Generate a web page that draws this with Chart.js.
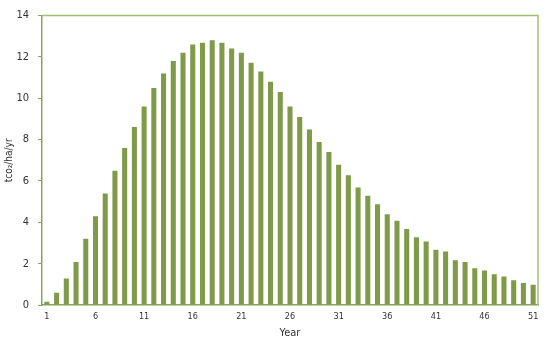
<!DOCTYPE html>
<html>
<head>
<meta charset="utf-8">
<script src="https://cdn.jsdelivr.net/npm/chart.js@4"></script>
<style>
html,body{margin:0;padding:0;background:#fff;}
#wrap{width:558px;height:354px;position:relative;}
</style>
</head>
<body>
<div id="wrap"><canvas id="c" width="558" height="354"></canvas></div>
<script>
const years = [];
for (let y = 1; y <= 51; y++) years.push(String(y));
const sequestration = [
  0.16, 0.59, 1.28, 2.08, 3.2, 4.29, 5.39, 6.5, 7.59, 8.61,
  9.6, 10.5, 11.2, 11.8, 12.2, 12.6, 12.69, 12.81, 12.69, 12.41,
  12.2, 11.72, 11.3, 10.8, 10.31, 9.6, 9.09, 8.49, 7.89, 7.4,
  6.79, 6.28, 5.68, 5.28, 4.87, 4.39, 4.08, 3.68, 3.28, 3.07,
  2.67, 2.59, 2.16, 2.08, 1.78, 1.67, 1.49, 1.38, 1.2, 1.07,
  0.98
];
const yTicks = [0, 2, 4, 6, 8, 10, 12, 14];

const FONT = '"Liberation Sans Narrow", "DejaVu Sans Condensed", "Roboto", sans-serif';

const frame = {
  id: 'frame',
  afterDraw(chart) {
    const a = chart.chartArea, ctx = chart.ctx;
    ctx.save();
    ctx.strokeStyle = '#a4bd74';
    ctx.lineWidth = 1.5;
    ctx.beginPath();
    ctx.moveTo(a.left, a.top);
    ctx.lineTo(a.right, a.top);
    ctx.lineTo(a.right, a.bottom);
    ctx.stroke();
    ctx.restore();
  }
};

new Chart(document.getElementById('c'), {
  type: 'bar',
  data: {
    labels: years,
    datasets: [{
      data: sequestration,
      backgroundColor: '#7f9a48',
      borderWidth: 0,
      barPercentage: 0.52,
      categoryPercentage: 1.0
    }]
  },
  options: {
    responsive: false,
    animation: false,
    devicePixelRatio: 1,
    layout: { padding: { left: 3, right: 20, top: 13, bottom: 14 } },
    plugins: { legend: { display: false }, tooltip: { enabled: false }, title: { display: false } },
    scales: {
      x: {
        grid: { display: true, drawOnChartArea: false, drawTicks: false, color: '#8aa35a' },
        border: { display: true, color: '#8aa35a', width: 1.5 },
        ticks: {
          autoSkip: false,
          maxRotation: 0,
          minRotation: 0,
          padding: 6,
          color: '#333',
          font: { family: FONT, size: 9 },
          callback: function (v, i) { return (i % 5 === 0) ? years[i] : ''; }
        },
        title: { display: true, text: 'Year', color: '#333', font: { family: FONT, size: 11 }, padding: { top: 2, bottom: 0 } },
        afterFit(s) { s.height = 35; }
      },
      y: {
        min: 0,
        max: 14,
        afterBuildTicks(s) { s.ticks = yTicks.map(v => ({ value: v })); },
        grid: { display: true, drawOnChartArea: false, drawTicks: true, tickLength: 4, color: '#8aa35a' },
        border: { display: true, color: '#8aa35a', width: 1.5 },
        ticks: { color: '#333', padding: 9, font: { family: FONT, size: 11 } },
        title: { display: true, text: 'tco₂/ha/yr', color: '#333', font: { family: FONT, size: 10 }, padding: { top: 0, bottom: 2 } },
        afterFit(s) { s.width = 39; }
      }
    }
  },
  plugins: [frame]
});
</script>
</body>
</html>
